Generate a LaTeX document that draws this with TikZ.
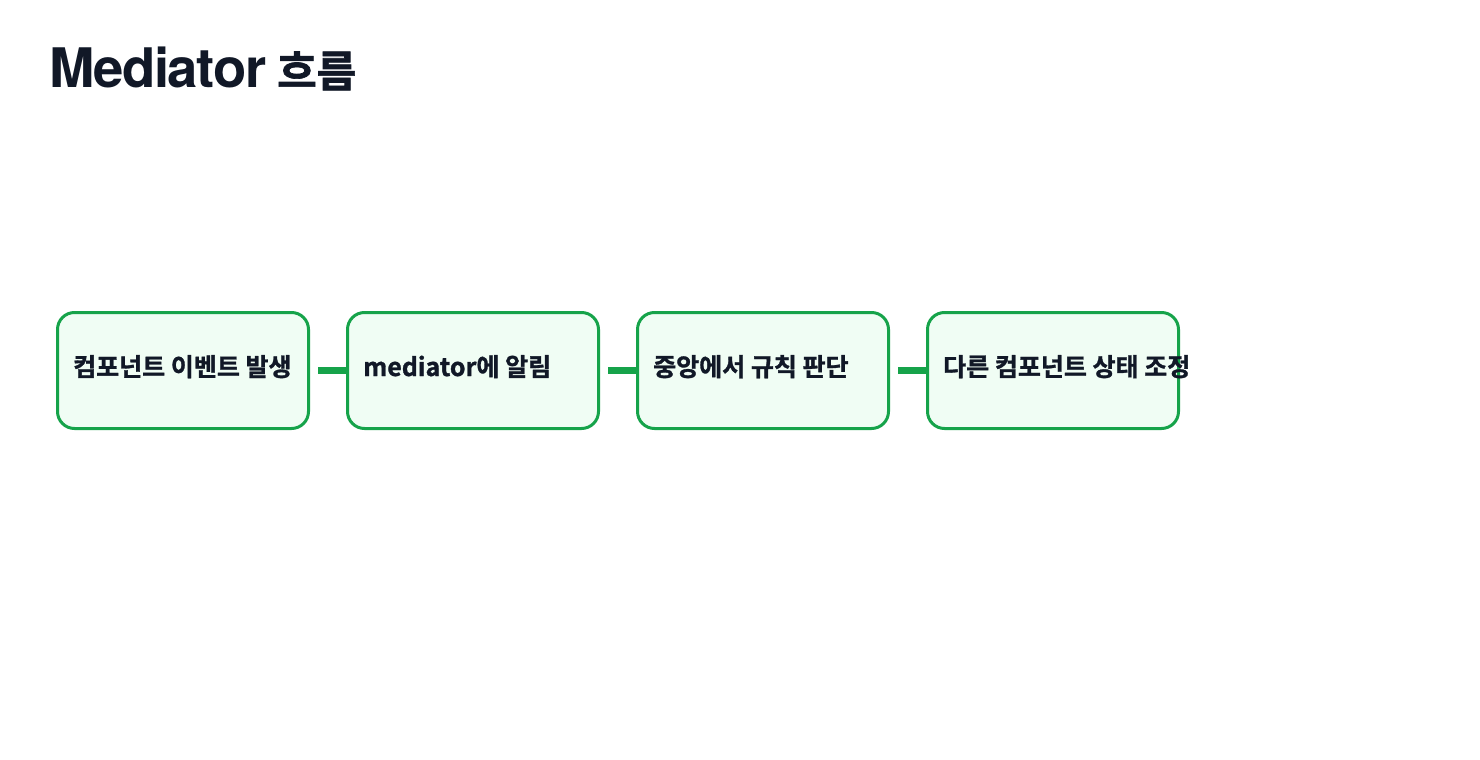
\documentclass[tikz,border=0pt]{standalone}
\usepackage{fontspec}
\setmainfont{Noto Sans CJK KR}[BoldFont={* Bold}]
\newfontfamily\latinhead{TeX Gyre Heros}[LetterSpace=-2.5]
\newfontfamily\krfont{Noto Sans CJK KR}[BoldFont={* Bold}, BoldFeatures={FakeBold=1.2}]
\newfontfamily\krhead{Noto Sans CJK KR}[BoldFont={* Bold}, BoldFeatures={FakeBold=1.5}]
\definecolor{ink}{HTML}{111827}
\definecolor{grn}{HTML}{16A34A}
\definecolor{lightgrn}{HTML}{F0FDF4}
\tikzset{
  stepbox/.style={draw=grn, fill=lightgrn, line width=3pt, rounded corners=17pt,
    minimum width=251pt, minimum height=116pt, inner sep=0pt},
  steptext/.style={anchor=base west, inner sep=0pt, text=ink,
    font=\krfont\bfseries\fontsize{25pt}{28pt}\selectfont},
  conn/.style={grn, line width=7pt, shorten <=8pt},
}
\begin{document}
\begin{tikzpicture}[x=1pt,y=-1pt]
\useasboundingbox (0,0) rectangle (1480,760);
\node[anchor=base west, inner sep=0pt, text=ink] (title) at (49,87)
  {\bfseries{\latinhead\fontsize{54.5pt}{60pt}\selectfont Mediator}\hspace{11pt}{\krhead\fontsize{43pt}{50pt}\selectfont 흐름}};
\node[stepbox] (b1) at (183,370.5) {};
\node[stepbox] (b2) at (473,370.5) {};
\node[stepbox] (b3) at (763,370.5) {};
\node[stepbox] (b4) at (1053,370.5) {};
\draw[conn] (b1.east) -- (b2.west);
\draw[conn] (b2.east) -- (b3.west);
\draw[conn] (b3.east) -- (b4.west);
\node[steptext] (t1) at (73,376) {컴포넌트 이벤트 발생};
\node[steptext] (t2) at (363,376) {mediator에 알림};
\node[steptext] (t3) at (653,376) {중앙에서 규칙 판단};
\node[steptext] (t4) at (943,376) {다른 컴포넌트 상태 조정};
\end{tikzpicture}
\end{document}
